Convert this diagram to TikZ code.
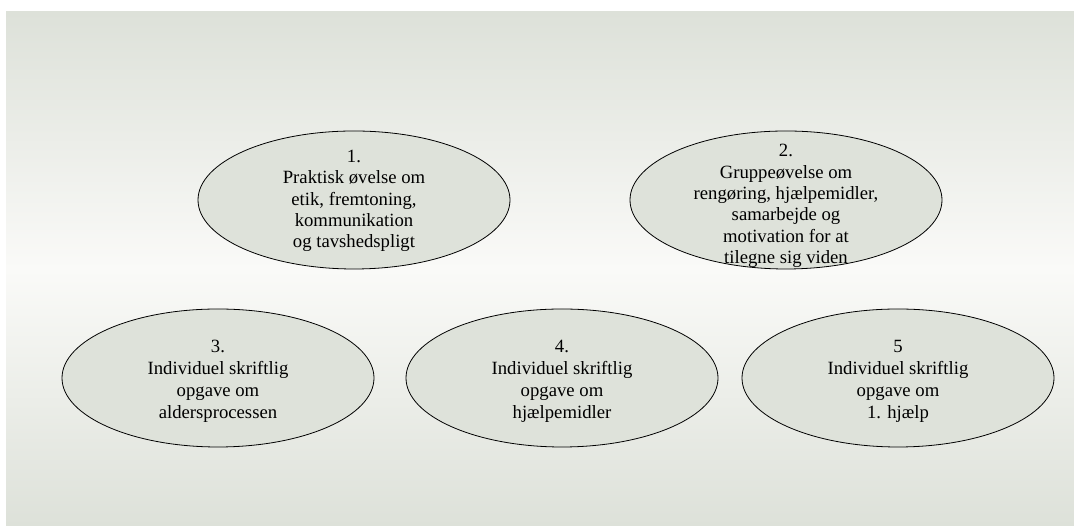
\documentclass[tikz,border=0pt]{standalone}
\usepackage{fontspec}
\setmainfont{Liberation Serif}
\usepackage{tikz}
\usetikzlibrary{shapes.geometric}
\definecolor{blobfill}{RGB}{222,226,218}
\definecolor{bggray}{RGB}{221,225,217}
\definecolor{bglight}{RGB}{250,250,248}

\begin{document}
\begin{tikzpicture}[x=1pt,y=1pt,
	blob/.style={ellipse,draw,fill=blobfill,line width=0.8pt,minimum width=312pt,minimum height=138pt,inner sep=0pt},
	txt/.style={align=center,font=\fontsize{18.7}{21.4}\selectfont}]
	\useasboundingbox (0,0) rectangle (1074,526);
	\fill[white] (0,0) rectangle (1074,526);
	\shade[top color=bggray,bottom color=bggray,middle color=bglight] (6,0) rectangle (1074,514);
	\node[blob] (e1) at (354,326) {};
	\node[blob] (e2) at (786,326) {};
	\node[blob] (e3) at (218,148) {};
	\node[blob] (e4) at (562,148) {};
	\node[blob] (e5) at (898,148) {};
	\node[txt] (t1) at ([yshift=-1pt]e1.center) {1.\\Praktisk øvelse om\\etik, fremtoning,\\kommunikation\\og tavshedspligt};
	\node[txt] (t2) at ([yshift=-6pt]e2.center) {2.\\Gruppeøvelse om\\rengøring, hjælpemidler,\\samarbejde og\\motivation for at\\tilegne sig viden};
	\node[txt,font=\fontsize{18.7}{22}\selectfont] (t3) at ([yshift=-3pt]e3.center) {3.\\Individuel skriftlig\\opgave om\\aldersprocessen};
	\node[txt,font=\fontsize{18.7}{22}\selectfont] (t4) at ([yshift=-3pt]e4.center) {4.\\Individuel skriftlig\\opgave om\\hjælpemidler};
	\node[txt,font=\fontsize{18.7}{22}\selectfont] (t5) at ([yshift=-3pt]e5.center) {5\\Individuel skriftlig\\opgave om\\1. hjælp};
\end{tikzpicture}
\end{document}
